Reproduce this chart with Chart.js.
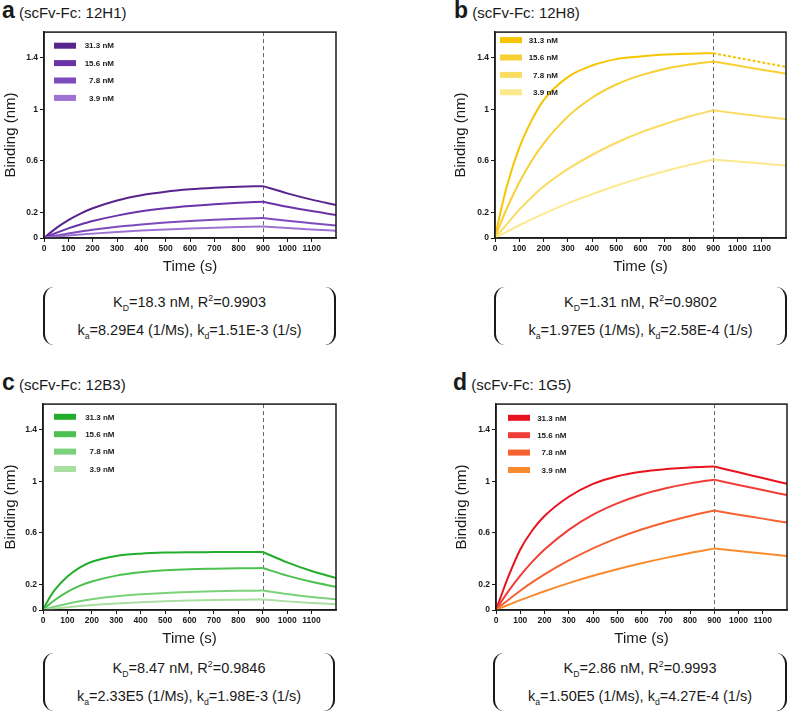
<!DOCTYPE html>
<html>
<head>
<meta charset="utf-8">
<script src="https://cdn.jsdelivr.net/npm/chart.js@4.4.1/dist/chart.umd.min.js"></script>
<style>
  body { margin: 0; width: 789px; height: 713px; position: relative; overflow: hidden; background: #fff;
         font-family: "Liberation Sans", Arial, Helvetica, sans-serif; color: #1a1a1a; }
  canvas { position: absolute; }
  .ttl { position: absolute; font-size: 15px; line-height: 24px; white-space: nowrap; }
  .ttl b { font-size: 23px; }
  .fit { position: absolute; height: 58px; box-sizing: border-box; border-left: 2px solid #1a1a1a;
         border-right: 2px solid #1a1a1a; border-radius: 11px; display: flex; flex-direction: column;
         justify-content: center; align-items: center; font-size: 14.5px; line-height: 28px; }
  .fit sub, .fit sup { font-size: 60%; line-height: 0; }
</style>
</head>
<body>

<div class="ttl" style="left:2px;top:-2px"><b>a</b> (scFv-Fc: 12H1)</div>
<div class="ttl" style="left:454px;top:-2px"><b>b</b> (scFv-Fc: 12H8)</div>
<div class="ttl" style="left:2px;top:370px"><b>c</b> (scFv-Fc: 12B3)</div>
<div class="ttl" style="left:453px;top:370px"><b>d</b> (scFv-Fc: 1G5)</div>

<canvas id="chartA" style="left:0px;top:25px" width="338" height="255"></canvas>
<canvas id="chartB" style="left:450px;top:25px" width="338" height="255"></canvas>
<canvas id="chartC" style="left:0px;top:397px" width="338" height="255"></canvas>
<canvas id="chartD" style="left:451px;top:397px" width="338" height="255"></canvas>

<div class="fit" style="left:43px;top:287px;width:293px">
  <div>K<sub>D</sub>=18.3 nM, R<sup>2</sup>=0.9903</div>
  <div>k<sub>a</sub>=8.29E4 (1/Ms), k<sub>d</sub>=1.51E-3 (1/s)</div>
</div>
<div class="fit" style="left:494px;top:287px;width:293px">
  <div>K<sub>D</sub>=1.31 nM, R<sup>2</sup>=0.9802</div>
  <div>k<sub>a</sub>=1.97E5 (1/Ms), k<sub>d</sub>=2.58E-4 (1/s)</div>
</div>
<div class="fit" style="left:43px;top:653px;width:292px">
  <div>K<sub>D</sub>=8.47 nM, R<sup>2</sup>=0.9846</div>
  <div>k<sub>a</sub>=2.33E5 (1/Ms), k<sub>d</sub>=1.98E-3 (1/s)</div>
</div>
<div class="fit" style="left:493px;top:653px;width:294px">
  <div>K<sub>D</sub>=2.86 nM, R<sup>2</sup>=0.9993</div>
  <div>k<sub>a</sub>=1.50E5 (1/Ms), k<sub>d</sub>=4.27E-4 (1/s)</div>
</div>

<script>
// Time axes (s)
const assocTime = [0, 25, 50, 100, 150, 200, 300, 400, 500, 600, 700, 800, 900];
const dissocTime = [900, 1000, 1100, 1200];
const switchTime = 900;

// Ticks
const xTicks = [0, 100, 200, 300, 400, 500, 600, 700, 800, 900, 1000, 1100];
const xTickLabels = ['0', '100', '200', '300', '400', '500', '600', '700', '800', '900', '1000', '1100'];
const yTicks = [0, 0.2, 0.6, 1, 1.4];
const yTickLabels = ['0', '0.2', '0.6', '1', '1.4'];

// Concentrations
const concLabels = ['31.3 nM', '15.6 nM', '7.8 nM', '3.9 nM'];

// Binding (nm), one row per concentration
const assoc12H1 = [
  [0, 0.040, 0.077, 0.139, 0.190, 0.231, 0.292, 0.333, 0.360, 0.378, 0.390, 0.398, 0.403],
  [0, 0.021, 0.040, 0.075, 0.105, 0.132, 0.174, 0.207, 0.231, 0.249, 0.263, 0.274, 0.282],
  [0, 0.010, 0.019, 0.035, 0.050, 0.064, 0.087, 0.105, 0.120, 0.132, 0.142, 0.150, 0.156],
  [0, 0.005, 0.010, 0.019, 0.027, 0.034, 0.047, 0.058, 0.067, 0.074, 0.080, 0.085, 0.090],
];
const dissoc12H1 = [
  [0.403, 0.347, 0.298, 0.256],
  [0.282, 0.243, 0.209, 0.179],
  [0.156, 0.134, 0.115, 0.097],
  [0.090, 0.077, 0.066, 0.056],
];

const assoc12H8 = [
  [0, 0.22, 0.41, 0.70, 0.91, 1.07, 1.25, 1.34, 1.39, 1.41, 1.425, 1.432, 1.436],
  [0, 0.123, 0.235, 0.431, 0.596, 0.733, 0.943, 1.09, 1.193, 1.264, 1.314, 1.348, 1.372],
  [0, 0.055, 0.11, 0.22, 0.315, 0.40, 0.535, 0.645, 0.74, 0.82, 0.885, 0.944, 0.992],
  [0, 0.025, 0.05, 0.099, 0.145, 0.188, 0.269, 0.34, 0.406, 0.465, 0.519, 0.567, 0.61],
];
const dissoc12H8 = [
  [1.436, 1.40, 1.365, 1.33],
  [1.372, 1.34, 1.308, 1.277],
  [0.992, 0.968, 0.945, 0.923],
  [0.61, 0.594, 0.579, 0.564],
];

const assoc12B3 = [
  [0, 0.09, 0.16, 0.26, 0.33, 0.375, 0.42, 0.438, 0.446, 0.449, 0.45, 0.451, 0.451],
  [0, 0.043, 0.08, 0.141, 0.187, 0.221, 0.267, 0.293, 0.308, 0.317, 0.321, 0.324, 0.326],
  [0, 0.014, 0.027, 0.049, 0.068, 0.083, 0.106, 0.122, 0.133, 0.14, 0.145, 0.149, 0.151],
  [0, 0.006, 0.012, 0.022, 0.031, 0.039, 0.051, 0.061, 0.068, 0.073, 0.077, 0.08, 0.082],
];
const dissoc12B3 = [
  [0.451, 0.37, 0.303, 0.249],
  [0.326, 0.267, 0.219, 0.18],
  [0.151, 0.124, 0.101, 0.083],
  [0.082, 0.067, 0.055, 0.045],
];

const assoc1G5 = [
  [0, 0.13, 0.255, 0.47, 0.62, 0.73, 0.88, 0.98, 1.04, 1.075, 1.095, 1.108, 1.115],
  [0, 0.074, 0.143, 0.267, 0.376, 0.47, 0.623, 0.741, 0.829, 0.896, 0.946, 0.984, 1.013],
  [0, 0.04, 0.078, 0.15, 0.216, 0.277, 0.385, 0.479, 0.558, 0.625, 0.682, 0.731, 0.773],
  [0, 0.02, 0.039, 0.077, 0.112, 0.146, 0.209, 0.266, 0.317, 0.363, 0.405, 0.443, 0.477],
];
const dissoc1G5 = [
  [1.115, 1.07, 1.025, 0.98],
  [1.013, 0.972, 0.932, 0.893],
  [0.773, 0.741, 0.71, 0.679],
  [0.477, 0.458, 0.439, 0.42],
];

// Colours
const purples = ['#58248d', '#6a33a7', '#7e4bbd', '#9d72d2'];
const golds = ['#f6c500', '#f8d035', '#fadc62', '#fce98f'];
const greens = ['#22ae2c', '#4cc14f', '#7bd17a', '#a9e0a2'];
const reds = ['#e8131f', '#f13d37', '#f66232', '#f98b2e'];

const FONT = '"Liberation Sans", Arial, Helvetica, sans-serif';
Chart.defaults.font.family = FONT;
Chart.defaults.color = '#1a1a1a';

function toPoints(times, values) {
  return times.map((t, i) => ({ x: t, y: values[i] }));
}

function buildDatasets(assoc, dissoc, colors, dottedIndex) {
  const sets = [];
  assoc.forEach((row, i) => {
    sets.push({ data: toPoints(assocTime, row), borderColor: colors[i] });
    sets.push({
      data: toPoints(dissocTime, dissoc[i]),
      borderColor: colors[i],
      borderDash: i === dottedIndex ? [3, 2] : [],
    });
  });
  // darkest line on top
  return sets.reverse();
}

function legendPlugin(colors, pos) {
  return {
    id: 'kinLegend',
    afterDraw(chart) {
      const { ctx, chartArea } = chart;
      ctx.save();
      ctx.font = 'bold 8px ' + FONT;
      ctx.textAlign = 'right';
      ctx.textBaseline = 'middle';
      concLabels.forEach((lab, i) => {
        const y = chartArea.top + pos.dy + i * 17.4;
        ctx.fillStyle = colors[i];
        ctx.fillRect(chartArea.left + pos.dx, y - 3, 22, 6);
        ctx.fillStyle = '#1a1a1a';
        ctx.fillText(lab, chartArea.left + pos.textEnd, y + 0.5);
      });
      ctx.restore();
    },
  };
}

// dashed marker where dissociation starts
const switchLine = {
  id: 'switchLine',
  beforeDatasetsDraw(chart) {
    const { ctx, chartArea, scales } = chart;
    const x = Math.round(scales.x.getPixelForValue(switchTime)) + 0.5;
    ctx.save();
    ctx.strokeStyle = '#666';
    ctx.lineWidth = 1;
    ctx.setLineDash([4, 3]);
    ctx.beginPath();
    ctx.moveTo(x, chartArea.top);
    ctx.lineTo(x, chartArea.bottom);
    ctx.stroke();
    ctx.restore();
  },
};

// full box round the plot area
const frame = {
  id: 'frame',
  afterDraw(chart) {
    const { ctx, chartArea } = chart;
    ctx.save();
    ctx.strokeStyle = '#1a1a1a';
    ctx.lineWidth = 1.5;
    ctx.strokeRect(chartArea.left, chartArea.top, chartArea.right - chartArea.left, chartArea.bottom - chartArea.top);
    ctx.restore();
  },
};

function drawPanel(id, assoc, dissoc, colors, legendPos, dottedIndex, yAxisWidth) {
  const ctx = document.getElementById(id).getContext('2d');
  new Chart(ctx, {
    type: 'line',
    data: { datasets: buildDatasets(assoc, dissoc, colors, dottedIndex) },
    options: {
      responsive: false,
      animation: false,
      events: [],
      layout: { padding: { top: 5, right: 2, left: 0, bottom: 0 } },
      elements: {
        point: { radius: 0 },
        line: { borderWidth: 2, cubicInterpolationMode: 'monotone', fill: false },
      },
      plugins: { legend: { display: false }, tooltip: { enabled: false } },
      scales: {
        x: {
          type: 'linear',
          min: 0,
          max: 1200,
          afterBuildTicks: (s) => { s.ticks = xTicks.map((v) => ({ value: v })); },
          afterFit: (s) => { s.height = 42; },
          ticks: {
            font: { size: 8.5, weight: 'bold' },
            padding: 2,
            maxRotation: 0,
            autoSkip: false,
            color: '#1a1a1a',
            callback: (v, i) => xTickLabels[i],
          },
          grid: { drawOnChartArea: false, drawTicks: true, tickLength: 4, color: '#1a1a1a' },
          border: { display: true, color: '#1a1a1a', width: 1.5 },
          title: { display: true, text: 'Time (s)', font: { size: 15 }, padding: { top: 0, bottom: 4 }, color: '#1a1a1a' },
        },
        y: {
          min: 0,
          max: 1.6,
          afterBuildTicks: (s) => { s.ticks = yTicks.map((v) => ({ value: v })); },
          afterFit: (s) => { s.width = yAxisWidth; },
          ticks: {
            font: { size: 8.5, weight: 'bold' },
            padding: 2,
            color: '#1a1a1a',
            callback: (v, i) => yTickLabels[i],
          },
          grid: { drawOnChartArea: false, drawTicks: true, tickLength: 4, color: '#1a1a1a' },
          border: { display: true, color: '#1a1a1a', width: 1.5 },
          title: { display: true, text: 'Binding (nm)', font: { size: 15 }, padding: { top: 2, bottom: 0 }, color: '#1a1a1a' },
        },
      },
    },
    plugins: [switchLine, legendPlugin(colors, legendPos), frame],
  });
}

drawPanel('chartA', assoc12H1, dissoc12H1, purples, { dx: 10, dy: 13.6, textEnd: 70 }, -1, 44);
drawPanel('chartB', assoc12H8, dissoc12H8, golds, { dx: 5, dy: 8, textEnd: 63 }, 0, 45);
drawPanel('chartC', assoc12B3, dissoc12B3, greens, { dx: 11, dy: 12.7, textEnd: 71.5 }, -1, 43);
drawPanel('chartD', assoc1G5, dissoc1G5, reds, { dx: 12, dy: 13.7, textEnd: 70.5 }, -1, 45);
</script>
</body>
</html>
